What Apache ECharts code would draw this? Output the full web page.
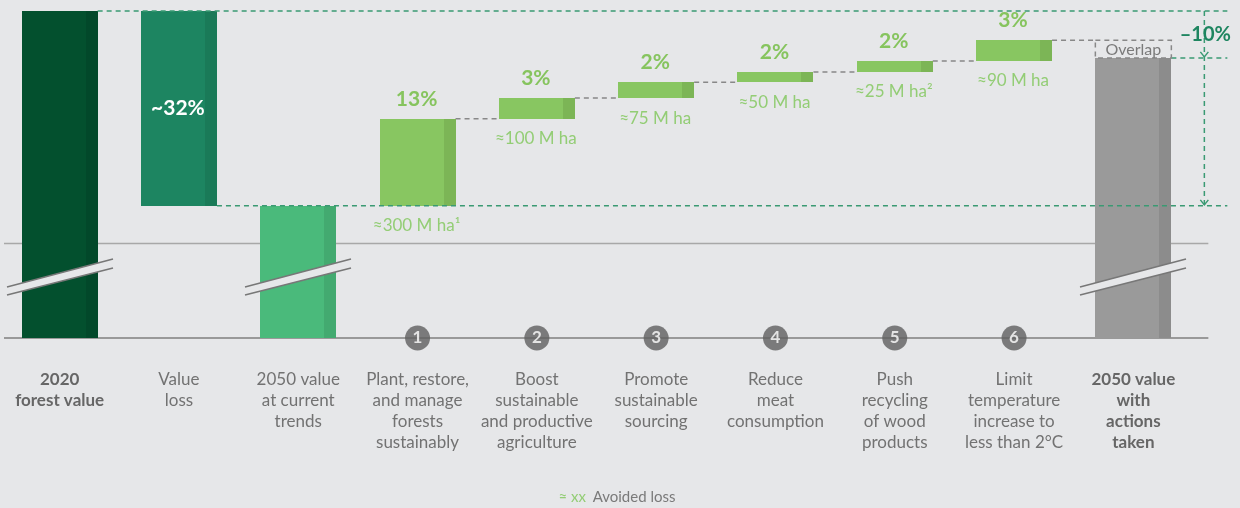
<!DOCTYPE html>
<html><head><meta charset="utf-8">
<script src="https://cdn.jsdelivr.net/npm/echarts@6/dist/echarts.min.js"></script>
<style>html,body{margin:0;padding:0;background:#e6e7e9;}#c{width:1240px;height:508px;}</style>
</head><body><div id="c"></div>
<script>
// ---- data (index: 2020 forest value = 100, heights as drawn) ----
const categories = [
  '2020\nforest value', 'Value\nloss', '2050 value\nat current\ntrends',
  'Plant, restore,\nand manage\nforests\nsustainably',
  'Boost\nsustainable\nand productive\nagriculture',
  'Promote\nsustainable\nsourcing', 'Reduce\nmeat\nconsumption',
  'Push\nrecycling\nof wood\nproducts', 'Limit\ntemperature\nincrease to\nless than 2°C',
  '2050 value\nwith\nactions\ntaken'
];
const boldCategories = [0, 9];
const startValue = 100;
const lossValue = 32;
const lossLabel = '~32%';
const avoidedSteps = [14.3, 3.4, 2.6, 1.7, 1.8, 3.4];
const avoidedLabels = ['13%', '3%', '2%', '2%', '2%', '3%'];
const avoidedArea = ['≈300 M ha¹', '≈100 M ha', '≈75 M ha', '≈50 M ha', '≈25 M ha²', '≈90 M ha'];
const stepNumbers = ['1', '2', '3', '4', '5', '6'];
const finalValue = 92.3;
const netLabel = '–10%';
const axisFloor = 46.3;   // broken-axis floor
const breakLine = 61.8;   // upper reference line of the broken section

// ---- styling ----
const BG = '#e6e7e9';
const colors = {
  start: ['#03502e', '#02482a'],
  loss: ['#1d8561', '#1a7a58'],
  current: ['#4aba7b', '#43aa70'],
  avoided: ['#88c661', '#7cb556'],
  final: ['#9a9a9a', '#8c8c8c']
};
const FONT = 'Lato, "Open Sans", sans-serif';
const BAR_W = 76, STRIP = 12;

// build waterfall items: [cat, low, high, kind, broken]
const items = [];
items.push([0, axisFloor, startValue, 'start', 1]);
items.push([1, startValue - lossValue, startValue, 'loss', 0]);
items.push([2, axisFloor, startValue - lossValue, 'current', 1]);
let level = startValue - lossValue;
const avoidedItems = [];
avoidedSteps.forEach((s, i) => {
  const it = [3 + i, level, level + s, 'avoided', 0];
  items.push(it); avoidedItems.push(it);
  level += s;
});
const topLevel = level;
items.push([9, axisFloor, finalValue, 'final', 1]);

const chart = echarts.init(document.getElementById('c'));

function renderBar(params, api) {
  const it = items[params.dataIndex];
  const pHi = api.coord([it[0], it[2]]);
  const pLo = api.coord([it[0], it[1]]);
  const left = Math.round(pHi[0] - BAR_W / 2);
  const top = Math.round(pHi[1]);
  const h = Math.round(pLo[1]) - top;
  const c = colors[it[3]];
  const children = [
    {type: 'rect', shape: {x: left, y: top, width: BAR_W, height: h}, style: {fill: c[0]}},
    {type: 'rect', shape: {x: left + BAR_W - STRIP, y: top, width: STRIP, height: h}, style: {fill: c[1]}}
  ];
  if (it[4]) {
    const B = pLo[1], x0 = left - 15, x1 = left + BAR_W + 15;
    children.push({type: 'polygon', shape: {points: [[x0, B - 51], [x1, B - 79], [x1, B - 70], [x0, B - 43]]}, style: {fill: BG}});
    children.push({type: 'line', shape: {x1: x0, y1: B - 51, x2: x1, y2: B - 79}, style: {stroke: '#777', lineWidth: 1.5}});
    children.push({type: 'line', shape: {x1: x0, y1: B - 43, x2: x1, y2: B - 70}, style: {stroke: '#777', lineWidth: 1.5}});
  }
  return {type: 'group', children};
}

chart.setOption({
  backgroundColor: BG,
  animation: false,
  grid: {left: 0, right: 47, top: 11, bottom: 170, containLabel: false},
  xAxis: {
    type: 'category', data: categories,
    axisLine: {show: false}, axisTick: {show: false},
    axisLabel: {
      interval: 0, margin: 31, fontSize: 17, lineHeight: 21, color: '#727272', fontFamily: FONT,
      formatter: (v, i) => boldCategories.includes(i) ? v.split('\n').map(s => '{b|' + s + '}').join('\n') : v,
      rich: {b: {fontWeight: 'bold', fontSize: 17, lineHeight: 21, color: '#666', fontFamily: FONT}}
    }
  },
  yAxis: {type: 'value', min: axisFloor, max: startValue, show: false, splitLine: {show: false}},
  series: [
    {
      type: 'custom', z: 3, renderItem: renderBar,
      data: items.map(it => [it[0], it[1], it[2]]),
      encode: {x: 0, y: [1, 2]}
    },
    {
      type: 'scatter', z: 5, clip: false, symbolSize: 25, silent: true,
      itemStyle: {color: '#5f5f5f'},
      label: {show: true, position: 'inside', color: '#fff', fontWeight: 'bold', fontSize: 17, fontFamily: FONT,
        formatter: p => stepNumbers[p.dataIndex]},
      data: stepNumbers.map((n, i) => [3 + i, axisFloor])
    }
  ]
});

// ---- annotations placed through the chart's own scales ----
const px = (x, y) => chart.convertToPixel({xAxisIndex: 0, yAxisIndex: 0}, [x, y]);
const g = [];
const GREEN_D = '#3a9a73', GRAY_D = '#888';
const dashed = (x1, y1, x2, y2, color, z) => ({type: 'line', z: z || 10, shape: {x1, y1, x2, y2},
  style: {stroke: color, lineWidth: 1.5, lineDash: [5, 4]}});
const yFloor = px(0, axisFloor)[1];
const yBreak = px(0, breakLine)[1];
const cx = i => px(i, axisFloor)[0];
const rightEnd = cx(9) + 75;
const arrowX = cx(9) + 71;
// reference lines
g.push({type: 'line', z: 0, shape: {x1: 4, y1: yBreak, x2: rightEnd, y2: yBreak}, style: {stroke: '#a8a8a8', lineWidth: 1.5}});
g.push({type: 'line', z: 1, shape: {x1: 4, y1: yFloor, x2: rightEnd, y2: yFloor}, style: {stroke: '#999', lineWidth: 2}});
// green dashed guides
const yTop = px(0, startValue)[1];
const yCur = px(0, startValue - lossValue)[1];
const yFin = px(0, finalValue)[1];
const yMax = px(0, topLevel)[1];
g.push(dashed(cx(0) + BAR_W / 2, yTop, arrowX + 23, yTop, GREEN_D));
g.push(dashed(cx(1) + BAR_W / 2, yCur, arrowX + 23, yCur, GREEN_D));
g.push(dashed(cx(9) + BAR_W / 2, yFin, arrowX + 23, yFin, GREEN_D));
g.push(dashed(arrowX, yTop, arrowX, yCur, GREEN_D));
[yFin, yCur].forEach(y => g.push({type: 'polyline', z: 11, shape: {points: [[arrowX - 4, y - 6], [arrowX, y - 1], [arrowX + 4, y - 6]]},
  style: {stroke: GREEN_D, lineWidth: 1.5, fill: null}}));
g.push({type: 'text', z: 12, style: {text: netLabel, x: arrowX + 1, y: (yTop + yFin) / 2, align: 'center', verticalAlign: 'middle',
  fill: '#1e8560', font: 'bold 20px ' + FONT}});
// value loss label
g.push({type: 'text', z: 12, style: {text: lossLabel, x: cx(1) - 1, y: (yTop + yCur) / 2, align: 'center', verticalAlign: 'middle',
  fill: '#fff', font: 'bold 21px ' + FONT}});
// avoided loss connectors and labels
avoidedItems.forEach((it, i) => {
  const pHi = px(it[0], it[2]), pLo = px(it[0], it[1]);
  g.push({type: 'text', z: 12, style: {text: avoidedLabels[i], x: pHi[0] - 1, y: pHi[1] - 20, align: 'center', verticalAlign: 'middle',
    fill: '#86c45e', font: 'bold 21px ' + FONT}});
  g.push({type: 'text', z: 12, style: {text: avoidedArea[i], x: pHi[0] - 1, y: pLo[1] + 20, align: 'center', verticalAlign: 'middle',
    fill: '#93cd75', font: '17px ' + FONT}});
  const nextX = px(it[0] + 1, 0)[0] - BAR_W / 2;
  g.push(dashed(pHi[0] + BAR_W / 2, pHi[1], nextX, pHi[1], GRAY_D, 2));
});
// overlap box
const ox = cx(9) - BAR_W / 2;
g.push({type: 'rect', z: 10, shape: {x: ox, y: yMax, width: BAR_W, height: yFin - yMax},
  style: {fill: null, stroke: GRAY_D, lineWidth: 1.5, lineDash: [5, 4]}});
g.push({type: 'text', z: 12, style: {text: 'Overlap', x: cx(9), y: (yMax + yFin) / 2 + 1, align: 'center', verticalAlign: 'middle',
  fill: '#7a7a7a', font: '16px ' + FONT}});
// legend
g.push({type: 'text', z: 12, style: {text: '{g|≈ xx}  {t|Avoided loss}', x: 617, y: 497, align: 'center', verticalAlign: 'middle',
  rich: {g: {fill: '#93cd75', fontSize: 15, fontFamily: FONT}, t: {fill: '#7a7a7a', fontSize: 15, fontFamily: FONT}}}});
chart.setOption({graphic: {elements: g}});
</script></body></html>
